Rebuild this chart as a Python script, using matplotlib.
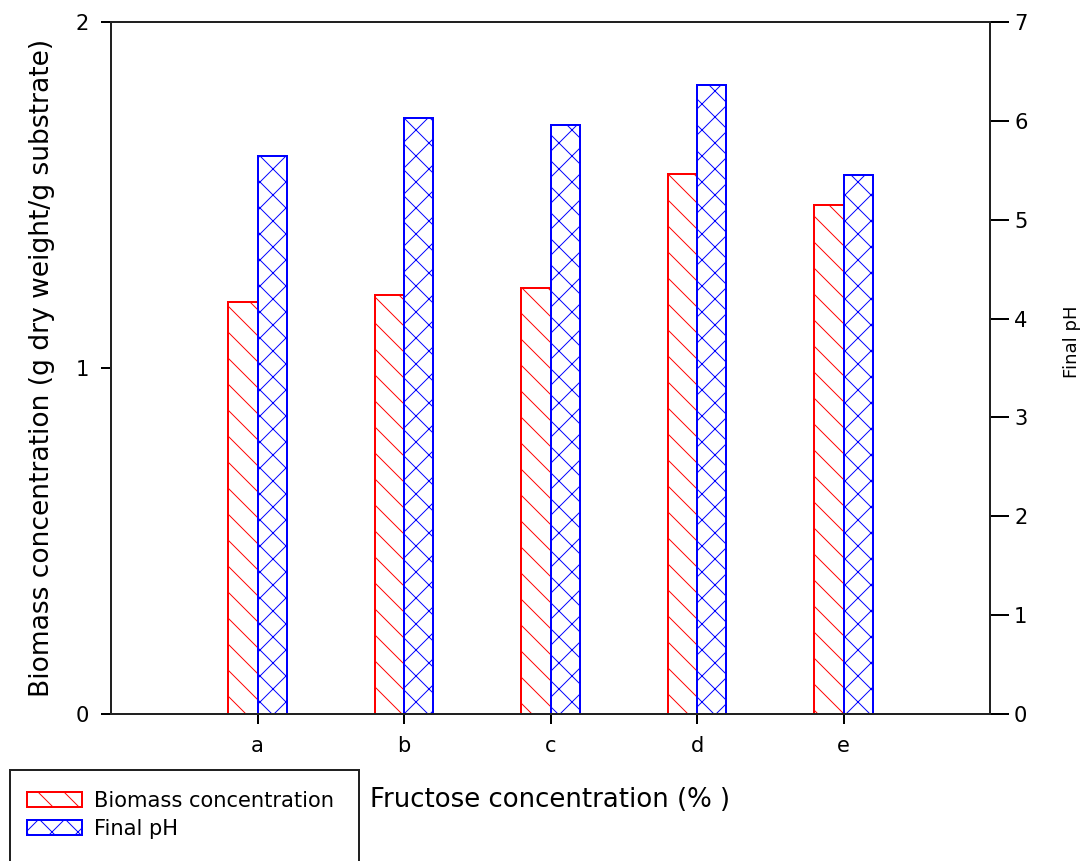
import matplotlib
matplotlib.use("Agg")
import matplotlib.pyplot as plt
from matplotlib.patches import Rectangle, Patch
import numpy as np

DPI = 156
W, H = 1085, 861

categories = ["a", "b", "c", "d", "e"]
biomass = [1.19, 1.21, 1.23, 1.56, 1.47]
final_ph = [5.64, 6.03, 5.96, 6.36, 5.45]

plt.rcParams["font.family"] = ["DejaVu Sans"]
plt.rcParams["hatch.linewidth"] = 0.45


def pt(px):
    return px * 72.0 / DPI


fig = plt.figure(figsize=(W / DPI, H / DPI), dpi=DPI)
ax = fig.add_axes([111 / W, 1 - 714 / H, (990 - 111) / W, (714 - 22) / H])
ax2 = ax.twinx()

x = np.arange(1, len(categories) + 1)
bw = 0.2
ax.bar(x - bw / 2, biomass, width=bw, facecolor="white", edgecolor="red",
       hatch="\\\\", linewidth=pt(2))
ax2.bar(x + bw / 2, final_ph, width=bw, facecolor="white", edgecolor="blue",
        hatch="xx", linewidth=pt(2))

ax.set_xlim(0, 6)
ax.set_ylim(0, 2)
ax2.set_ylim(0, 7)
ax.set_xticks(x)
ax.set_xticklabels(categories)
ax.set_yticks([0, 1, 2])
ax2.set_yticks(range(0, 8))

for a in (ax, ax2):
    for s in a.spines.values():
        s.set_linewidth(pt(2))
        s.set_color("#222222")
ax.tick_params(axis="y", length=pt(10), width=pt(2), labelsize=pt(21), pad=pt(12))
ax.tick_params(axis="x", length=pt(10), width=pt(2), labelsize=pt(21), pad=pt(12))
ax2.tick_params(axis="y", length=pt(19), width=pt(2), labelsize=pt(21), pad=pt(5))

ax.set_ylabel("Biomass concentration (g dry weight/g substrate)", fontsize=pt(26.5),
              labelpad=pt(20))
fig.text(1072 / W, 1 - 342 / H, "Final pH", fontsize=pt(18), rotation=90,
         ha="center", va="center")
fig.text(550 / W, 1 - 800 / H, "Fructose concentration (% )", fontsize=pt(26),
         ha="center", va="center")

# legend box and entries below the plot
fig.patches.append(Rectangle((10 / W, -0.05), (359 - 10) / W, (1 - 770 / H) + 0.05,
                             transform=fig.transFigure, facecolor="white",
                             edgecolor="#222222", linewidth=pt(2)))
handles = [
    Patch(facecolor="white", edgecolor="red", hatch="\\\\", linewidth=pt(2)),
    Patch(facecolor="white", edgecolor="blue", hatch="xx", linewidth=pt(2)),
]
fig.legend(handles, ["Biomass concentration", "Final pH"],
           loc="upper left", bbox_to_anchor=(27 / W, 1 - 791 / H),
           frameon=False, fontsize=pt(21), handlelength=2.6, handleheight=0.75,
           handletextpad=0.6, labelspacing=0.38, borderpad=0, borderaxespad=0)

fig.savefig("out.png", dpi=DPI)
